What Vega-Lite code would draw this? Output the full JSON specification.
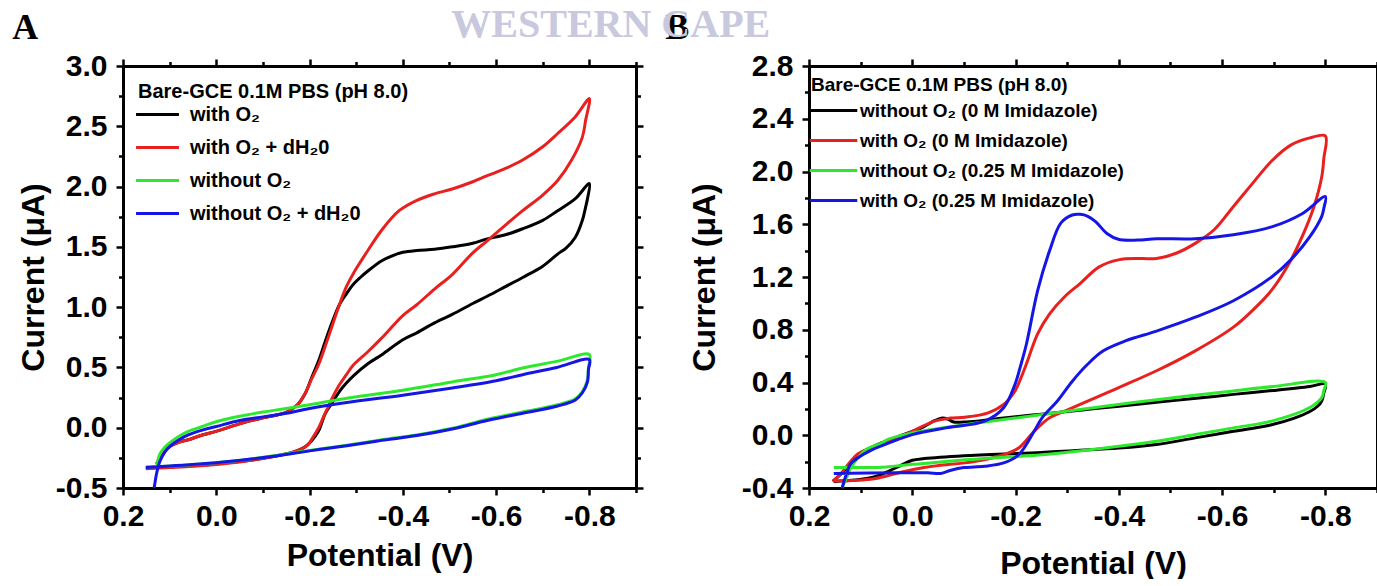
{
"$schema": "https://vega.github.io/schema/vega-lite/v6.json",
"background": "white",
"padding": {"left": 12, "top": 5, "right": 0, "bottom": 0},
"config": {
  "font": "Liberation Sans",
  "view": {"stroke": null},
  "axis": {"labelFont": "Liberation Sans", "labelFontWeight": "bold", "labelFontSize": 30, "labelColor": "black",
           "titleFont": "Liberation Sans", "titleFontWeight": "bold", "titleFontSize": 32, "titleColor": "black",
           "domainColor": "black", "domainWidth": 3, "tickColor": "black", "tickWidth": 2.5, "grid": false, "labelPadding": 9, "labelOverlap": false, "labelFlush": false},
  "axisBottom": {"labelPadding": 6},
  "legend": {"orient": "none", "padding": 0, "titleFont": "Liberation Sans", "titleFontWeight": "bold", "titleColor": "black",
             "labelFont": "Liberation Sans", "labelFontWeight": "bold", "labelColor": "black", "symbolStrokeWidth": 3,
             "symbolFillColor": "transparent", "titleLimit": 400, "labelLimit": 400},
  "title": {"font": "Liberation Serif", "fontWeight": "bold", "fontSize": 36, "color": "black", "anchor": "start"}
},
"title": {"text": "WESTERN CAPE", "color": "#c8c8de", "fontSize": 40, "dx": 439, "dy": -7, "offset": -42, "zindex": -1},
"spacing": 20,
"resolve": {"scale": {"color": "independent"}, "legend": {"color": "independent"}},
"datasets": {"cv": [
{"panel":"A","series":"with O₂","ord":1,"V":0.128,"I":-0.30},
{"panel":"A","series":"with O₂","ord":2,"V":0.121,"I":-0.25},
{"panel":"A","series":"with O₂","ord":3,"V":0.106,"I":-0.17},
{"panel":"A","series":"with O₂","ord":4,"V":0.08,"I":-0.12},
{"panel":"A","series":"with O₂","ord":5,"V":0.06,"I":-0.10},
{"panel":"A","series":"with O₂","ord":6,"V":0.03,"I":-0.06},
{"panel":"A","series":"with O₂","ord":7,"V":0.0,"I":-0.03},
{"panel":"A","series":"with O₂","ord":8,"V":-0.053,"I":0.036},
{"panel":"A","series":"with O₂","ord":9,"V":-0.098,"I":0.08},
{"panel":"A","series":"with O₂","ord":10,"V":-0.151,"I":0.13},
{"panel":"A","series":"with O₂","ord":11,"V":-0.174,"I":0.19},
{"panel":"A","series":"with O₂","ord":12,"V":-0.19,"I":0.28},
{"panel":"A","series":"with O₂","ord":13,"V":-0.204,"I":0.41},
{"panel":"A","series":"with O₂","ord":14,"V":-0.219,"I":0.55},
{"panel":"A","series":"with O₂","ord":15,"V":-0.234,"I":0.72},
{"panel":"A","series":"with O₂","ord":16,"V":-0.249,"I":0.88},
{"panel":"A","series":"with O₂","ord":17,"V":-0.264,"I":1.02},
{"panel":"A","series":"with O₂","ord":18,"V":-0.279,"I":1.11},
{"panel":"A","series":"with O₂","ord":19,"V":-0.294,"I":1.19},
{"panel":"A","series":"with O₂","ord":20,"V":-0.31,"I":1.25},
{"panel":"A","series":"with O₂","ord":21,"V":-0.325,"I":1.30},
{"panel":"A","series":"with O₂","ord":22,"V":-0.355,"I":1.385},
{"panel":"A","series":"with O₂","ord":23,"V":-0.38,"I":1.43},
{"panel":"A","series":"with O₂","ord":24,"V":-0.40,"I":1.455},
{"panel":"A","series":"with O₂","ord":25,"V":-0.43,"I":1.47},
{"panel":"A","series":"with O₂","ord":26,"V":-0.468,"I":1.48},
{"panel":"A","series":"with O₂","ord":27,"V":-0.506,"I":1.50},
{"panel":"A","series":"with O₂","ord":28,"V":-0.55,"I":1.53},
{"panel":"A","series":"with O₂","ord":29,"V":-0.581,"I":1.566},
{"panel":"A","series":"with O₂","ord":30,"V":-0.62,"I":1.60},
{"panel":"A","series":"with O₂","ord":31,"V":-0.657,"I":1.65},
{"panel":"A","series":"with O₂","ord":32,"V":-0.70,"I":1.72},
{"panel":"A","series":"with O₂","ord":33,"V":-0.732,"I":1.80},
{"panel":"A","series":"with O₂","ord":34,"V":-0.77,"I":1.90},
{"panel":"A","series":"with O₂","ord":35,"V":-0.80,"I":2.025},
{"panel":"A","series":"with O₂","ord":36,"V":-0.796,"I":1.90},
{"panel":"A","series":"with O₂","ord":37,"V":-0.792,"I":1.83},
{"panel":"A","series":"with O₂","ord":38,"V":-0.785,"I":1.72},
{"panel":"A","series":"with O₂","ord":39,"V":-0.77,"I":1.58},
{"panel":"A","series":"with O₂","ord":40,"V":-0.75,"I":1.49},
{"panel":"A","series":"with O₂","ord":41,"V":-0.732,"I":1.44},
{"panel":"A","series":"with O₂","ord":42,"V":-0.70,"I":1.34},
{"panel":"A","series":"with O₂","ord":43,"V":-0.657,"I":1.246},
{"panel":"A","series":"with O₂","ord":44,"V":-0.62,"I":1.17},
{"panel":"A","series":"with O₂","ord":45,"V":-0.581,"I":1.09},
{"panel":"A","series":"with O₂","ord":46,"V":-0.55,"I":1.03},
{"panel":"A","series":"with O₂","ord":47,"V":-0.506,"I":0.94},
{"panel":"A","series":"with O₂","ord":48,"V":-0.468,"I":0.87},
{"panel":"A","series":"with O₂","ord":49,"V":-0.43,"I":0.787},
{"panel":"A","series":"with O₂","ord":50,"V":-0.40,"I":0.73},
{"panel":"A","series":"with O₂","ord":51,"V":-0.355,"I":0.606},
{"panel":"A","series":"with O₂","ord":52,"V":-0.325,"I":0.53},
{"panel":"A","series":"with O₂","ord":53,"V":-0.294,"I":0.43},
{"panel":"A","series":"with O₂","ord":54,"V":-0.279,"I":0.37},
{"panel":"A","series":"with O₂","ord":55,"V":-0.264,"I":0.30},
{"panel":"A","series":"with O₂","ord":56,"V":-0.249,"I":0.21},
{"panel":"A","series":"with O₂","ord":57,"V":-0.234,"I":0.12},
{"panel":"A","series":"with O₂","ord":58,"V":-0.219,"I":-0.03},
{"panel":"A","series":"with O₂","ord":59,"V":-0.204,"I":-0.11},
{"panel":"A","series":"with O₂","ord":60,"V":-0.19,"I":-0.16},
{"panel":"A","series":"with O₂","ord":61,"V":-0.166,"I":-0.20},
{"panel":"A","series":"with O₂","ord":62,"V":-0.128,"I":-0.235},
{"panel":"A","series":"with O₂","ord":63,"V":-0.098,"I":-0.256},
{"panel":"A","series":"with O₂","ord":64,"V":-0.05,"I":-0.28},
{"panel":"A","series":"with O₂","ord":65,"V":0.0,"I":-0.30},
{"panel":"A","series":"with O₂","ord":66,"V":0.05,"I":-0.315},
{"panel":"A","series":"with O₂","ord":67,"V":0.098,"I":-0.325},
{"panel":"A","series":"with O₂","ord":68,"V":0.151,"I":-0.335},
{"panel":"A","series":"with O₂ + dH₂0","ord":1,"V":0.128,"I":-0.30},
{"panel":"A","series":"with O₂ + dH₂0","ord":2,"V":0.121,"I":-0.25},
{"panel":"A","series":"with O₂ + dH₂0","ord":3,"V":0.106,"I":-0.17},
{"panel":"A","series":"with O₂ + dH₂0","ord":4,"V":0.08,"I":-0.12},
{"panel":"A","series":"with O₂ + dH₂0","ord":5,"V":0.06,"I":-0.10},
{"panel":"A","series":"with O₂ + dH₂0","ord":6,"V":0.03,"I":-0.06},
{"panel":"A","series":"with O₂ + dH₂0","ord":7,"V":0.0,"I":-0.03},
{"panel":"A","series":"with O₂ + dH₂0","ord":8,"V":-0.053,"I":0.036},
{"panel":"A","series":"with O₂ + dH₂0","ord":9,"V":-0.098,"I":0.08},
{"panel":"A","series":"with O₂ + dH₂0","ord":10,"V":-0.151,"I":0.13},
{"panel":"A","series":"with O₂ + dH₂0","ord":11,"V":-0.174,"I":0.19},
{"panel":"A","series":"with O₂ + dH₂0","ord":12,"V":-0.19,"I":0.28},
{"panel":"A","series":"with O₂ + dH₂0","ord":13,"V":-0.204,"I":0.40},
{"panel":"A","series":"with O₂ + dH₂0","ord":14,"V":-0.219,"I":0.52},
{"panel":"A","series":"with O₂ + dH₂0","ord":15,"V":-0.234,"I":0.68},
{"panel":"A","series":"with O₂ + dH₂0","ord":16,"V":-0.249,"I":0.85},
{"panel":"A","series":"with O₂ + dH₂0","ord":17,"V":-0.264,"I":1.02},
{"panel":"A","series":"with O₂ + dH₂0","ord":18,"V":-0.279,"I":1.17},
{"panel":"A","series":"with O₂ + dH₂0","ord":19,"V":-0.294,"I":1.28},
{"panel":"A","series":"with O₂ + dH₂0","ord":20,"V":-0.31,"I":1.38},
{"panel":"A","series":"with O₂ + dH₂0","ord":21,"V":-0.325,"I":1.47},
{"panel":"A","series":"with O₂ + dH₂0","ord":22,"V":-0.355,"I":1.64},
{"panel":"A","series":"with O₂ + dH₂0","ord":23,"V":-0.392,"I":1.80},
{"panel":"A","series":"with O₂ + dH₂0","ord":24,"V":-0.43,"I":1.886},
{"panel":"A","series":"with O₂ + dH₂0","ord":25,"V":-0.468,"I":1.94},
{"panel":"A","series":"with O₂ + dH₂0","ord":26,"V":-0.506,"I":1.98},
{"panel":"A","series":"with O₂ + dH₂0","ord":27,"V":-0.55,"I":2.04},
{"panel":"A","series":"with O₂ + dH₂0","ord":28,"V":-0.581,"I":2.09},
{"panel":"A","series":"with O₂ + dH₂0","ord":29,"V":-0.62,"I":2.15},
{"panel":"A","series":"with O₂ + dH₂0","ord":30,"V":-0.657,"I":2.22},
{"panel":"A","series":"with O₂ + dH₂0","ord":31,"V":-0.70,"I":2.33},
{"panel":"A","series":"with O₂ + dH₂0","ord":32,"V":-0.732,"I":2.44},
{"panel":"A","series":"with O₂ + dH₂0","ord":33,"V":-0.77,"I":2.58},
{"panel":"A","series":"with O₂ + dH₂0","ord":34,"V":-0.80,"I":2.73},
{"panel":"A","series":"with O₂ + dH₂0","ord":35,"V":-0.792,"I":2.55},
{"panel":"A","series":"with O₂ + dH₂0","ord":36,"V":-0.785,"I":2.41},
{"panel":"A","series":"with O₂ + dH₂0","ord":37,"V":-0.762,"I":2.22},
{"panel":"A","series":"with O₂ + dH₂0","ord":38,"V":-0.732,"I":2.05},
{"panel":"A","series":"with O₂ + dH₂0","ord":39,"V":-0.70,"I":1.93},
{"panel":"A","series":"with O₂ + dH₂0","ord":40,"V":-0.657,"I":1.80},
{"panel":"A","series":"with O₂ + dH₂0","ord":41,"V":-0.62,"I":1.68},
{"panel":"A","series":"with O₂ + dH₂0","ord":42,"V":-0.581,"I":1.55},
{"panel":"A","series":"with O₂ + dH₂0","ord":43,"V":-0.55,"I":1.45},
{"panel":"A","series":"with O₂ + dH₂0","ord":44,"V":-0.506,"I":1.27},
{"panel":"A","series":"with O₂ + dH₂0","ord":45,"V":-0.468,"I":1.15},
{"panel":"A","series":"with O₂ + dH₂0","ord":46,"V":-0.43,"I":1.02},
{"panel":"A","series":"with O₂ + dH₂0","ord":47,"V":-0.40,"I":0.93},
{"panel":"A","series":"with O₂ + dH₂0","ord":48,"V":-0.355,"I":0.745},
{"panel":"A","series":"with O₂ + dH₂0","ord":49,"V":-0.325,"I":0.63},
{"panel":"A","series":"with O₂ + dH₂0","ord":50,"V":-0.294,"I":0.52},
{"panel":"A","series":"with O₂ + dH₂0","ord":51,"V":-0.279,"I":0.44},
{"panel":"A","series":"with O₂ + dH₂0","ord":52,"V":-0.264,"I":0.356},
{"panel":"A","series":"with O₂ + dH₂0","ord":53,"V":-0.249,"I":0.25},
{"panel":"A","series":"with O₂ + dH₂0","ord":54,"V":-0.242,"I":0.19},
{"panel":"A","series":"with O₂ + dH₂0","ord":55,"V":-0.23,"I":0.09},
{"panel":"A","series":"with O₂ + dH₂0","ord":56,"V":-0.219,"I":-0.005},
{"panel":"A","series":"with O₂ + dH₂0","ord":57,"V":-0.204,"I":-0.10},
{"panel":"A","series":"with O₂ + dH₂0","ord":58,"V":-0.196,"I":-0.145},
{"panel":"A","series":"with O₂ + dH₂0","ord":59,"V":-0.18,"I":-0.18},
{"panel":"A","series":"with O₂ + dH₂0","ord":60,"V":-0.166,"I":-0.20},
{"panel":"A","series":"with O₂ + dH₂0","ord":61,"V":-0.128,"I":-0.235},
{"panel":"A","series":"with O₂ + dH₂0","ord":62,"V":-0.098,"I":-0.256},
{"panel":"A","series":"with O₂ + dH₂0","ord":63,"V":-0.05,"I":-0.285},
{"panel":"A","series":"with O₂ + dH₂0","ord":64,"V":0.0,"I":-0.305},
{"panel":"A","series":"with O₂ + dH₂0","ord":65,"V":0.05,"I":-0.32},
{"panel":"A","series":"with O₂ + dH₂0","ord":66,"V":0.098,"I":-0.33},
{"panel":"A","series":"with O₂ + dH₂0","ord":67,"V":0.151,"I":-0.34},
{"panel":"A","series":"without O₂","ord":1,"V":0.128,"I":-0.33},
{"panel":"A","series":"without O₂","ord":2,"V":0.121,"I":-0.22},
{"panel":"A","series":"without O₂","ord":3,"V":0.11,"I":-0.16},
{"panel":"A","series":"without O₂","ord":4,"V":0.098,"I":-0.12},
{"panel":"A","series":"without O₂","ord":5,"V":0.08,"I":-0.07},
{"panel":"A","series":"without O₂","ord":6,"V":0.06,"I":-0.03},
{"panel":"A","series":"without O₂","ord":7,"V":0.03,"I":0.01},
{"panel":"A","series":"without O₂","ord":8,"V":0.0,"I":0.05},
{"panel":"A","series":"without O₂","ord":9,"V":-0.05,"I":0.095},
{"panel":"A","series":"without O₂","ord":10,"V":-0.1,"I":0.13},
{"panel":"A","series":"without O₂","ord":11,"V":-0.15,"I":0.16},
{"panel":"A","series":"without O₂","ord":12,"V":-0.2,"I":0.19},
{"panel":"A","series":"without O₂","ord":13,"V":-0.28,"I":0.245},
{"panel":"A","series":"without O₂","ord":14,"V":-0.4,"I":0.31},
{"panel":"A","series":"without O₂","ord":15,"V":-0.506,"I":0.38},
{"panel":"A","series":"without O₂","ord":16,"V":-0.6,"I":0.44},
{"panel":"A","series":"without O₂","ord":17,"V":-0.657,"I":0.495},
{"panel":"A","series":"without O₂","ord":18,"V":-0.73,"I":0.55},
{"panel":"A","series":"without O₂","ord":19,"V":-0.8,"I":0.606},
{"panel":"A","series":"without O₂","ord":20,"V":-0.798,"I":0.50},
{"panel":"A","series":"without O₂","ord":21,"V":-0.796,"I":0.40},
{"panel":"A","series":"without O₂","ord":22,"V":-0.785,"I":0.30},
{"panel":"A","series":"without O₂","ord":23,"V":-0.77,"I":0.24},
{"panel":"A","series":"without O₂","ord":24,"V":-0.732,"I":0.19},
{"panel":"A","series":"without O₂","ord":25,"V":-0.657,"I":0.13},
{"panel":"A","series":"without O₂","ord":26,"V":-0.581,"I":0.07},
{"panel":"A","series":"without O₂","ord":27,"V":-0.506,"I":-0.005},
{"panel":"A","series":"without O₂","ord":28,"V":-0.43,"I":-0.06},
{"panel":"A","series":"without O₂","ord":29,"V":-0.355,"I":-0.10},
{"panel":"A","series":"without O₂","ord":30,"V":-0.28,"I":-0.145},
{"panel":"A","series":"without O₂","ord":31,"V":-0.204,"I":-0.186},
{"panel":"A","series":"without O₂","ord":32,"V":-0.128,"I":-0.23},
{"panel":"A","series":"without O₂","ord":33,"V":-0.053,"I":-0.27},
{"panel":"A","series":"without O₂","ord":34,"V":0.0,"I":-0.29},
{"panel":"A","series":"without O₂","ord":35,"V":0.098,"I":-0.317},
{"panel":"A","series":"without O₂","ord":36,"V":0.151,"I":-0.325},
{"panel":"A","series":"without O₂ + dH₂0","ord":1,"V":0.133,"I":-0.5},
{"panel":"A","series":"without O₂ + dH₂0","ord":2,"V":0.128,"I":-0.38},
{"panel":"A","series":"without O₂ + dH₂0","ord":3,"V":0.121,"I":-0.28},
{"panel":"A","series":"without O₂ + dH₂0","ord":4,"V":0.11,"I":-0.2},
{"panel":"A","series":"without O₂ + dH₂0","ord":5,"V":0.098,"I":-0.15},
{"panel":"A","series":"without O₂ + dH₂0","ord":6,"V":0.08,"I":-0.10},
{"panel":"A","series":"without O₂ + dH₂0","ord":7,"V":0.06,"I":-0.06},
{"panel":"A","series":"without O₂ + dH₂0","ord":8,"V":0.03,"I":-0.02},
{"panel":"A","series":"without O₂ + dH₂0","ord":9,"V":0.0,"I":0.01},
{"panel":"A","series":"without O₂ + dH₂0","ord":10,"V":-0.05,"I":0.06},
{"panel":"A","series":"without O₂ + dH₂0","ord":11,"V":-0.1,"I":0.09},
{"panel":"A","series":"without O₂ + dH₂0","ord":12,"V":-0.15,"I":0.12},
{"panel":"A","series":"without O₂ + dH₂0","ord":13,"V":-0.2,"I":0.16},
{"panel":"A","series":"without O₂ + dH₂0","ord":14,"V":-0.28,"I":0.21},
{"panel":"A","series":"without O₂ + dH₂0","ord":15,"V":-0.4,"I":0.27},
{"panel":"A","series":"without O₂ + dH₂0","ord":16,"V":-0.506,"I":0.33},
{"panel":"A","series":"without O₂ + dH₂0","ord":17,"V":-0.6,"I":0.39},
{"panel":"A","series":"without O₂ + dH₂0","ord":18,"V":-0.657,"I":0.44},
{"panel":"A","series":"without O₂ + dH₂0","ord":19,"V":-0.73,"I":0.50},
{"panel":"A","series":"without O₂ + dH₂0","ord":20,"V":-0.8,"I":0.565},
{"panel":"A","series":"without O₂ + dH₂0","ord":21,"V":-0.798,"I":0.48},
{"panel":"A","series":"without O₂ + dH₂0","ord":22,"V":-0.796,"I":0.38},
{"panel":"A","series":"without O₂ + dH₂0","ord":23,"V":-0.785,"I":0.29},
{"panel":"A","series":"without O₂ + dH₂0","ord":24,"V":-0.77,"I":0.23},
{"panel":"A","series":"without O₂ + dH₂0","ord":25,"V":-0.732,"I":0.18},
{"panel":"A","series":"without O₂ + dH₂0","ord":26,"V":-0.657,"I":0.12},
{"panel":"A","series":"without O₂ + dH₂0","ord":27,"V":-0.581,"I":0.06},
{"panel":"A","series":"without O₂ + dH₂0","ord":28,"V":-0.506,"I":-0.01},
{"panel":"A","series":"without O₂ + dH₂0","ord":29,"V":-0.43,"I":-0.065},
{"panel":"A","series":"without O₂ + dH₂0","ord":30,"V":-0.355,"I":-0.105},
{"panel":"A","series":"without O₂ + dH₂0","ord":31,"V":-0.28,"I":-0.15},
{"panel":"A","series":"without O₂ + dH₂0","ord":32,"V":-0.204,"I":-0.19},
{"panel":"A","series":"without O₂ + dH₂0","ord":33,"V":-0.128,"I":-0.235},
{"panel":"A","series":"without O₂ + dH₂0","ord":34,"V":-0.053,"I":-0.27},
{"panel":"A","series":"without O₂ + dH₂0","ord":35,"V":0.0,"I":-0.29},
{"panel":"A","series":"without O₂ + dH₂0","ord":36,"V":0.098,"I":-0.317},
{"panel":"A","series":"without O₂ + dH₂0","ord":37,"V":0.151,"I":-0.33},
{"panel":"B","series":"without O₂ (0 M Imidazole)","ord":1,"V":0.154,"I":-0.35},
{"panel":"B","series":"without O₂ (0 M Imidazole)","ord":2,"V":0.14,"I":-0.30},
{"panel":"B","series":"without O₂ (0 M Imidazole)","ord":3,"V":0.12,"I":-0.22},
{"panel":"B","series":"without O₂ (0 M Imidazole)","ord":4,"V":0.105,"I":-0.15},
{"panel":"B","series":"without O₂ (0 M Imidazole)","ord":5,"V":0.083,"I":-0.10},
{"panel":"B","series":"without O₂ (0 M Imidazole)","ord":6,"V":0.061,"I":-0.06},
{"panel":"B","series":"without O₂ (0 M Imidazole)","ord":7,"V":0.046,"I":-0.04},
{"panel":"B","series":"without O₂ (0 M Imidazole)","ord":8,"V":0.02,"I":0.0},
{"panel":"B","series":"without O₂ (0 M Imidazole)","ord":9,"V":0.0,"I":0.03},
{"panel":"B","series":"without O₂ (0 M Imidazole)","ord":10,"V":-0.02,"I":0.06},
{"panel":"B","series":"without O₂ (0 M Imidazole)","ord":11,"V":-0.043,"I":0.11},
{"panel":"B","series":"without O₂ (0 M Imidazole)","ord":12,"V":-0.058,"I":0.13},
{"panel":"B","series":"without O₂ (0 M Imidazole)","ord":13,"V":-0.07,"I":0.12},
{"panel":"B","series":"without O₂ (0 M Imidazole)","ord":14,"V":-0.08,"I":0.10},
{"panel":"B","series":"without O₂ (0 M Imidazole)","ord":15,"V":-0.1,"I":0.10},
{"panel":"B","series":"without O₂ (0 M Imidazole)","ord":16,"V":-0.125,"I":0.107},
{"panel":"B","series":"without O₂ (0 M Imidazole)","ord":17,"V":-0.177,"I":0.13},
{"panel":"B","series":"without O₂ (0 M Imidazole)","ord":18,"V":-0.25,"I":0.16},
{"panel":"B","series":"without O₂ (0 M Imidazole)","ord":19,"V":-0.325,"I":0.19},
{"panel":"B","series":"without O₂ (0 M Imidazole)","ord":20,"V":-0.4,"I":0.22},
{"panel":"B","series":"without O₂ (0 M Imidazole)","ord":21,"V":-0.473,"I":0.25},
{"panel":"B","series":"without O₂ (0 M Imidazole)","ord":22,"V":-0.55,"I":0.28},
{"panel":"B","series":"without O₂ (0 M Imidazole)","ord":23,"V":-0.622,"I":0.31},
{"panel":"B","series":"without O₂ (0 M Imidazole)","ord":24,"V":-0.7,"I":0.34},
{"panel":"B","series":"without O₂ (0 M Imidazole)","ord":25,"V":-0.77,"I":0.37},
{"panel":"B","series":"without O₂ (0 M Imidazole)","ord":26,"V":-0.8,"I":0.387},
{"panel":"B","series":"without O₂ (0 M Imidazole)","ord":27,"V":-0.797,"I":0.32},
{"panel":"B","series":"without O₂ (0 M Imidazole)","ord":28,"V":-0.793,"I":0.26},
{"panel":"B","series":"without O₂ (0 M Imidazole)","ord":29,"V":-0.785,"I":0.22},
{"panel":"B","series":"without O₂ (0 M Imidazole)","ord":30,"V":-0.77,"I":0.18},
{"panel":"B","series":"without O₂ (0 M Imidazole)","ord":31,"V":-0.74,"I":0.13},
{"panel":"B","series":"without O₂ (0 M Imidazole)","ord":32,"V":-0.696,"I":0.08},
{"panel":"B","series":"without O₂ (0 M Imidazole)","ord":33,"V":-0.622,"I":0.03},
{"panel":"B","series":"without O₂ (0 M Imidazole)","ord":34,"V":-0.548,"I":-0.02},
{"panel":"B","series":"without O₂ (0 M Imidazole)","ord":35,"V":-0.473,"I":-0.07},
{"panel":"B","series":"without O₂ (0 M Imidazole)","ord":36,"V":-0.4,"I":-0.097},
{"panel":"B","series":"without O₂ (0 M Imidazole)","ord":37,"V":-0.25,"I":-0.13},
{"panel":"B","series":"without O₂ (0 M Imidazole)","ord":38,"V":-0.1,"I":-0.155},
{"panel":"B","series":"without O₂ (0 M Imidazole)","ord":39,"V":-0.023,"I":-0.177},
{"panel":"B","series":"without O₂ (0 M Imidazole)","ord":40,"V":0.0,"I":-0.19},
{"panel":"B","series":"without O₂ (0 M Imidazole)","ord":41,"V":0.022,"I":-0.228},
{"panel":"B","series":"without O₂ (0 M Imidazole)","ord":42,"V":0.05,"I":-0.28},
{"panel":"B","series":"without O₂ (0 M Imidazole)","ord":43,"V":0.074,"I":-0.317},
{"panel":"B","series":"without O₂ (0 M Imidazole)","ord":44,"V":0.11,"I":-0.34},
{"panel":"B","series":"without O₂ (0 M Imidazole)","ord":45,"V":0.152,"I":-0.35},
{"panel":"B","series":"with O₂ (0 M Imidazole)","ord":1,"V":0.154,"I":-0.35},
{"panel":"B","series":"with O₂ (0 M Imidazole)","ord":2,"V":0.14,"I":-0.30},
{"panel":"B","series":"with O₂ (0 M Imidazole)","ord":3,"V":0.12,"I":-0.20},
{"panel":"B","series":"with O₂ (0 M Imidazole)","ord":4,"V":0.105,"I":-0.14},
{"panel":"B","series":"with O₂ (0 M Imidazole)","ord":5,"V":0.083,"I":-0.10},
{"panel":"B","series":"with O₂ (0 M Imidazole)","ord":6,"V":0.046,"I":-0.046},
{"panel":"B","series":"with O₂ (0 M Imidazole)","ord":7,"V":0.0,"I":0.03},
{"panel":"B","series":"with O₂ (0 M Imidazole)","ord":8,"V":-0.043,"I":0.107},
{"panel":"B","series":"with O₂ (0 M Imidazole)","ord":9,"V":-0.073,"I":0.13},
{"panel":"B","series":"with O₂ (0 M Imidazole)","ord":10,"V":-0.102,"I":0.137},
{"panel":"B","series":"with O₂ (0 M Imidazole)","ord":11,"V":-0.147,"I":0.17},
{"panel":"B","series":"with O₂ (0 M Imidazole)","ord":12,"V":-0.177,"I":0.234},
{"panel":"B","series":"with O₂ (0 M Imidazole)","ord":13,"V":-0.199,"I":0.336},
{"panel":"B","series":"with O₂ (0 M Imidazole)","ord":14,"V":-0.21,"I":0.43},
{"panel":"B","series":"with O₂ (0 M Imidazole)","ord":15,"V":-0.221,"I":0.54},
{"panel":"B","series":"with O₂ (0 M Imidazole)","ord":16,"V":-0.243,"I":0.77},
{"panel":"B","series":"with O₂ (0 M Imidazole)","ord":17,"V":-0.266,"I":0.92},
{"panel":"B","series":"with O₂ (0 M Imidazole)","ord":18,"V":-0.295,"I":1.05},
{"panel":"B","series":"with O₂ (0 M Imidazole)","ord":19,"V":-0.325,"I":1.15},
{"panel":"B","series":"with O₂ (0 M Imidazole)","ord":20,"V":-0.362,"I":1.277},
{"panel":"B","series":"with O₂ (0 M Imidazole)","ord":21,"V":-0.399,"I":1.33},
{"panel":"B","series":"with O₂ (0 M Imidazole)","ord":22,"V":-0.444,"I":1.34},
{"panel":"B","series":"with O₂ (0 M Imidazole)","ord":23,"V":-0.473,"I":1.34},
{"panel":"B","series":"with O₂ (0 M Imidazole)","ord":24,"V":-0.511,"I":1.38},
{"panel":"B","series":"with O₂ (0 M Imidazole)","ord":25,"V":-0.548,"I":1.455},
{"panel":"B","series":"with O₂ (0 M Imidazole)","ord":26,"V":-0.585,"I":1.56},
{"panel":"B","series":"with O₂ (0 M Imidazole)","ord":27,"V":-0.622,"I":1.735},
{"panel":"B","series":"with O₂ (0 M Imidazole)","ord":28,"V":-0.659,"I":1.91},
{"panel":"B","series":"with O₂ (0 M Imidazole)","ord":29,"V":-0.696,"I":2.08},
{"panel":"B","series":"with O₂ (0 M Imidazole)","ord":30,"V":-0.733,"I":2.2},
{"panel":"B","series":"with O₂ (0 M Imidazole)","ord":31,"V":-0.77,"I":2.255},
{"panel":"B","series":"with O₂ (0 M Imidazole)","ord":32,"V":-0.8,"I":2.27},
{"panel":"B","series":"with O₂ (0 M Imidazole)","ord":33,"V":-0.797,"I":2.1},
{"panel":"B","series":"with O₂ (0 M Imidazole)","ord":34,"V":-0.793,"I":1.96},
{"panel":"B","series":"with O₂ (0 M Imidazole)","ord":35,"V":-0.778,"I":1.735},
{"panel":"B","series":"with O₂ (0 M Imidazole)","ord":36,"V":-0.755,"I":1.506},
{"panel":"B","series":"with O₂ (0 M Imidazole)","ord":37,"V":-0.726,"I":1.277},
{"panel":"B","series":"with O₂ (0 M Imidazole)","ord":38,"V":-0.696,"I":1.10},
{"panel":"B","series":"with O₂ (0 M Imidazole)","ord":39,"V":-0.659,"I":0.947},
{"panel":"B","series":"with O₂ (0 M Imidazole)","ord":40,"V":-0.622,"I":0.82},
{"panel":"B","series":"with O₂ (0 M Imidazole)","ord":41,"V":-0.548,"I":0.64},
{"panel":"B","series":"with O₂ (0 M Imidazole)","ord":42,"V":-0.473,"I":0.489},
{"panel":"B","series":"with O₂ (0 M Imidazole)","ord":43,"V":-0.399,"I":0.36},
{"panel":"B","series":"with O₂ (0 M Imidazole)","ord":44,"V":-0.325,"I":0.234},
{"panel":"B","series":"with O₂ (0 M Imidazole)","ord":45,"V":-0.295,"I":0.183},
{"panel":"B","series":"with O₂ (0 M Imidazole)","ord":46,"V":-0.266,"I":0.132},
{"panel":"B","series":"with O₂ (0 M Imidazole)","ord":47,"V":-0.236,"I":0.03},
{"panel":"B","series":"with O₂ (0 M Imidazole)","ord":48,"V":-0.206,"I":-0.097},
{"panel":"B","series":"with O₂ (0 M Imidazole)","ord":49,"V":-0.177,"I":-0.148},
{"panel":"B","series":"with O₂ (0 M Imidazole)","ord":50,"V":-0.12,"I":-0.20},
{"panel":"B","series":"with O₂ (0 M Imidazole)","ord":51,"V":-0.05,"I":-0.23},
{"panel":"B","series":"with O₂ (0 M Imidazole)","ord":52,"V":-0.023,"I":-0.245},
{"panel":"B","series":"with O₂ (0 M Imidazole)","ord":53,"V":0.022,"I":-0.28},
{"panel":"B","series":"with O₂ (0 M Imidazole)","ord":54,"V":0.074,"I":-0.33},
{"panel":"B","series":"with O₂ (0 M Imidazole)","ord":55,"V":0.152,"I":-0.347},
{"panel":"B","series":"without O₂ (0.25 M Imidazole)","ord":1,"V":0.136,"I":-0.40},
{"panel":"B","series":"without O₂ (0.25 M Imidazole)","ord":2,"V":0.125,"I":-0.30},
{"panel":"B","series":"without O₂ (0.25 M Imidazole)","ord":3,"V":0.119,"I":-0.245},
{"panel":"B","series":"without O₂ (0.25 M Imidazole)","ord":4,"V":0.105,"I":-0.17},
{"panel":"B","series":"without O₂ (0.25 M Imidazole)","ord":5,"V":0.09,"I":-0.11},
{"panel":"B","series":"without O₂ (0.25 M Imidazole)","ord":6,"V":0.06,"I":-0.06},
{"panel":"B","series":"without O₂ (0.25 M Imidazole)","ord":7,"V":0.046,"I":-0.03},
{"panel":"B","series":"without O₂ (0.25 M Imidazole)","ord":8,"V":0.0,"I":0.018},
{"panel":"B","series":"without O₂ (0.25 M Imidazole)","ord":9,"V":-0.102,"I":0.08},
{"panel":"B","series":"without O₂ (0.25 M Imidazole)","ord":10,"V":-0.199,"I":0.13},
{"panel":"B","series":"without O₂ (0.25 M Imidazole)","ord":11,"V":-0.325,"I":0.196},
{"panel":"B","series":"without O₂ (0.25 M Imidazole)","ord":12,"V":-0.473,"I":0.27},
{"panel":"B","series":"without O₂ (0.25 M Imidazole)","ord":13,"V":-0.622,"I":0.336},
{"panel":"B","series":"without O₂ (0.25 M Imidazole)","ord":14,"V":-0.7,"I":0.37},
{"panel":"B","series":"without O₂ (0.25 M Imidazole)","ord":15,"V":-0.8,"I":0.40},
{"panel":"B","series":"without O₂ (0.25 M Imidazole)","ord":16,"V":-0.797,"I":0.34},
{"panel":"B","series":"without O₂ (0.25 M Imidazole)","ord":17,"V":-0.793,"I":0.285},
{"panel":"B","series":"without O₂ (0.25 M Imidazole)","ord":18,"V":-0.77,"I":0.21},
{"panel":"B","series":"without O₂ (0.25 M Imidazole)","ord":19,"V":-0.696,"I":0.107},
{"panel":"B","series":"without O₂ (0.25 M Imidazole)","ord":20,"V":-0.622,"I":0.056},
{"panel":"B","series":"without O₂ (0.25 M Imidazole)","ord":21,"V":-0.548,"I":0.005},
{"panel":"B","series":"without O₂ (0.25 M Imidazole)","ord":22,"V":-0.473,"I":-0.046},
{"panel":"B","series":"without O₂ (0.25 M Imidazole)","ord":23,"V":-0.399,"I":-0.084},
{"panel":"B","series":"without O₂ (0.25 M Imidazole)","ord":24,"V":-0.251,"I":-0.148},
{"panel":"B","series":"without O₂ (0.25 M Imidazole)","ord":25,"V":-0.102,"I":-0.186},
{"panel":"B","series":"without O₂ (0.25 M Imidazole)","ord":26,"V":-0.023,"I":-0.215},
{"panel":"B","series":"without O₂ (0.25 M Imidazole)","ord":27,"V":0.0,"I":-0.22},
{"panel":"B","series":"without O₂ (0.25 M Imidazole)","ord":28,"V":0.05,"I":-0.24},
{"panel":"B","series":"without O₂ (0.25 M Imidazole)","ord":29,"V":0.1,"I":-0.245},
{"panel":"B","series":"without O₂ (0.25 M Imidazole)","ord":30,"V":0.152,"I":-0.245},
{"panel":"B","series":"with O₂ (0.25 M Imidazole)","ord":1,"V":0.136,"I":-0.40},
{"panel":"B","series":"with O₂ (0.25 M Imidazole)","ord":2,"V":0.128,"I":-0.30},
{"panel":"B","series":"with O₂ (0.25 M Imidazole)","ord":3,"V":0.12,"I":-0.22},
{"panel":"B","series":"with O₂ (0.25 M Imidazole)","ord":4,"V":0.105,"I":-0.17},
{"panel":"B","series":"with O₂ (0.25 M Imidazole)","ord":5,"V":0.083,"I":-0.12},
{"panel":"B","series":"with O₂ (0.25 M Imidazole)","ord":6,"V":0.046,"I":-0.06},
{"panel":"B","series":"with O₂ (0.25 M Imidazole)","ord":7,"V":0.0,"I":0.005},
{"panel":"B","series":"with O₂ (0.25 M Imidazole)","ord":8,"V":-0.065,"I":0.056},
{"panel":"B","series":"with O₂ (0.25 M Imidazole)","ord":9,"V":-0.14,"I":0.107},
{"panel":"B","series":"with O₂ (0.25 M Imidazole)","ord":10,"V":-0.177,"I":0.209},
{"panel":"B","series":"with O₂ (0.25 M Imidazole)","ord":11,"V":-0.199,"I":0.387},
{"panel":"B","series":"with O₂ (0.25 M Imidazole)","ord":12,"V":-0.21,"I":0.53},
{"panel":"B","series":"with O₂ (0.25 M Imidazole)","ord":13,"V":-0.221,"I":0.69},
{"panel":"B","series":"with O₂ (0.25 M Imidazole)","ord":14,"V":-0.243,"I":1.10},
{"panel":"B","series":"with O₂ (0.25 M Imidazole)","ord":15,"V":-0.266,"I":1.40},
{"panel":"B","series":"with O₂ (0.25 M Imidazole)","ord":16,"V":-0.288,"I":1.61},
{"panel":"B","series":"with O₂ (0.25 M Imidazole)","ord":17,"V":-0.31,"I":1.67},
{"panel":"B","series":"with O₂ (0.25 M Imidazole)","ord":18,"V":-0.325,"I":1.675},
{"panel":"B","series":"with O₂ (0.25 M Imidazole)","ord":19,"V":-0.34,"I":1.66},
{"panel":"B","series":"with O₂ (0.25 M Imidazole)","ord":20,"V":-0.355,"I":1.62},
{"panel":"B","series":"with O₂ (0.25 M Imidazole)","ord":21,"V":-0.377,"I":1.53},
{"panel":"B","series":"with O₂ (0.25 M Imidazole)","ord":22,"V":-0.399,"I":1.486},
{"panel":"B","series":"with O₂ (0.25 M Imidazole)","ord":23,"V":-0.436,"I":1.48},
{"panel":"B","series":"with O₂ (0.25 M Imidazole)","ord":24,"V":-0.473,"I":1.49},
{"panel":"B","series":"with O₂ (0.25 M Imidazole)","ord":25,"V":-0.548,"I":1.49},
{"panel":"B","series":"with O₂ (0.25 M Imidazole)","ord":26,"V":-0.622,"I":1.52},
{"panel":"B","series":"with O₂ (0.25 M Imidazole)","ord":27,"V":-0.696,"I":1.58},
{"panel":"B","series":"with O₂ (0.25 M Imidazole)","ord":28,"V":-0.755,"I":1.68},
{"panel":"B","series":"with O₂ (0.25 M Imidazole)","ord":29,"V":-0.8,"I":1.81},
{"panel":"B","series":"with O₂ (0.25 M Imidazole)","ord":30,"V":-0.797,"I":1.72},
{"panel":"B","series":"with O₂ (0.25 M Imidazole)","ord":31,"V":-0.793,"I":1.66},
{"panel":"B","series":"with O₂ (0.25 M Imidazole)","ord":32,"V":-0.77,"I":1.506},
{"panel":"B","series":"with O₂ (0.25 M Imidazole)","ord":33,"V":-0.733,"I":1.33},
{"panel":"B","series":"with O₂ (0.25 M Imidazole)","ord":34,"V":-0.696,"I":1.20},
{"panel":"B","series":"with O₂ (0.25 M Imidazole)","ord":35,"V":-0.622,"I":1.02},
{"panel":"B","series":"with O₂ (0.25 M Imidazole)","ord":36,"V":-0.548,"I":0.895},
{"panel":"B","series":"with O₂ (0.25 M Imidazole)","ord":37,"V":-0.473,"I":0.79},
{"panel":"B","series":"with O₂ (0.25 M Imidazole)","ord":38,"V":-0.414,"I":0.717},
{"panel":"B","series":"with O₂ (0.25 M Imidazole)","ord":39,"V":-0.37,"I":0.64},
{"panel":"B","series":"with O₂ (0.25 M Imidazole)","ord":40,"V":-0.34,"I":0.54},
{"panel":"B","series":"with O₂ (0.25 M Imidazole)","ord":41,"V":-0.31,"I":0.41},
{"panel":"B","series":"with O₂ (0.25 M Imidazole)","ord":42,"V":-0.281,"I":0.26},
{"panel":"B","series":"with O₂ (0.25 M Imidazole)","ord":43,"V":-0.251,"I":0.13},
{"panel":"B","series":"with O₂ (0.25 M Imidazole)","ord":44,"V":-0.236,"I":0.03},
{"panel":"B","series":"with O₂ (0.25 M Imidazole)","ord":45,"V":-0.206,"I":-0.148},
{"panel":"B","series":"with O₂ (0.25 M Imidazole)","ord":46,"V":-0.177,"I":-0.21},
{"panel":"B","series":"with O₂ (0.25 M Imidazole)","ord":47,"V":-0.14,"I":-0.235},
{"panel":"B","series":"with O₂ (0.25 M Imidazole)","ord":48,"V":-0.1,"I":-0.245},
{"panel":"B","series":"with O₂ (0.25 M Imidazole)","ord":49,"V":-0.075,"I":-0.265},
{"panel":"B","series":"with O₂ (0.25 M Imidazole)","ord":50,"V":-0.055,"I":-0.29},
{"panel":"B","series":"with O₂ (0.25 M Imidazole)","ord":51,"V":-0.03,"I":-0.285},
{"panel":"B","series":"with O₂ (0.25 M Imidazole)","ord":52,"V":0.03,"I":-0.285},
{"panel":"B","series":"with O₂ (0.25 M Imidazole)","ord":53,"V":0.152,"I":-0.29}
]},
"hconcat": [
{
  "width": 513, "height": 422,
  "title": {"text": "A", "dx": -5},
  "data": {"name": "cv"},
  "transform": [{"filter": "datum.panel == 'A'"}],
  "layer": [
    {
      "mark": {"type": "line", "strokeWidth": 3, "interpolate": "catmull-rom"},
      "encoding": {
        "x": {"field": "V", "type": "quantitative",
              "scale": {"domain": [-0.9, 0.2], "reverse": true, "nice": false, "zero": false},
              "axis": {"orient": "bottom", "title": "Potential (V)", "titlePadding": 9,
                       "values": [0.2, 0.1, 0, -0.1, -0.2, -0.3, -0.4, -0.5, -0.6, -0.7, -0.8, -0.9],
                       "tickSize": {"condition": {"test": "abs(round(datum.value*10)) % 2 == 0", "value": 7}, "value": 4.5},
                       "labelExpr": "abs(round(datum.value*10)) % 2 == 0 && datum.value > -0.85 ? (datum.value < -0.01 ? '-' : '') + format(abs(datum.value), '.1f') : ''"}},
        "y": {"field": "I", "type": "quantitative",
              "scale": {"domain": [-0.5, 3.0], "nice": false, "zero": false},
              "axis": {"orient": "left", "title": "Current (μA)", "titlePadding": 5,
                       "values": [-0.5, -0.25, 0, 0.25, 0.5, 0.75, 1, 1.25, 1.5, 1.75, 2, 2.25, 2.5, 2.75, 3],
                       "tickSize": {"condition": {"test": "abs(round(datum.value*4)) % 2 == 0", "value": 7}, "value": 4.5},
                       "labelExpr": "abs(round(datum.value*4)) % 2 == 0 ? (datum.value < -0.01 ? '-' : '') + format(abs(datum.value), '.1f') : ''"}},
        "color": {"field": "series", "type": "nominal",
                  "scale": {"domain": ["with O₂", "with O₂ + dH₂0", "without O₂", "without O₂ + dH₂0"],
                            "range": ["#000000", "#e8201e", "#2ee82e", "#1515e6"]},
                  "legend": {"title": "Bare-GCE 0.1M PBS (pH 8.0)", "legendX": 15, "legendY": 16,
                             "titleFontSize": 20, "labelFontSize": 20, "titlePadding": -4,
                             "symbolType": "M-1.23,0H1.63", "symbolSize": 900, "labelOffset": 19, "rowPadding": 6}},
        "order": {"field": "ord", "type": "quantitative"}
      }
    },
    {
      "mark": {"type": "line", "opacity": 0},
      "encoding": {
        "x": {"field": "V", "type": "quantitative",
              "scale": {"domain": [-0.9, 0.2], "reverse": true, "nice": false, "zero": false},
              "axis": {"orient": "top", "title": null, "labels": false,
                       "values": [0.2, 0.1, 0, -0.1, -0.2, -0.3, -0.4, -0.5, -0.6, -0.7, -0.8, -0.9],
                       "tickSize": {"condition": {"test": "abs(round(datum.value*10)) % 2 == 0", "value": 7}, "value": 4.5}}},
        "y": {"field": "I", "type": "quantitative",
              "scale": {"domain": [-0.5, 3.0], "nice": false, "zero": false},
              "axis": {"orient": "right", "title": null, "labels": false,
                       "values": [-0.5, -0.25, 0, 0.25, 0.5, 0.75, 1, 1.25, 1.5, 1.75, 2, 2.25, 2.5, 2.75, 3],
                       "tickSize": {"condition": {"test": "abs(round(datum.value*4)) % 2 == 0", "value": 7}, "value": 4.5}}},
        "detail": {"field": "series", "type": "nominal"},
        "order": {"field": "ord", "type": "quantitative"}
      }
    }
  ],
  "resolve": {"axis": {"x": "independent", "y": "independent"}}
},
{
  "width": 568, "height": 422,
  "title": {"text": "B", "dx": -23},
  "data": {"name": "cv"},
  "transform": [{"filter": "datum.panel == 'B'"}],
  "layer": [
    {
      "mark": {"type": "line", "strokeWidth": 3, "interpolate": "catmull-rom"},
      "encoding": {
        "x": {"field": "V", "type": "quantitative",
              "scale": {"domain": [-0.9, 0.2], "reverse": true, "nice": false, "zero": false},
              "axis": {"orient": "bottom", "title": "Potential (V)", "titlePadding": 17,
                       "values": [0.2, 0.1, 0, -0.1, -0.2, -0.3, -0.4, -0.5, -0.6, -0.7, -0.8, -0.9],
                       "tickSize": {"condition": {"test": "abs(round(datum.value*10)) % 2 == 0", "value": 7}, "value": 4.5},
                       "labelExpr": "abs(round(datum.value*10)) % 2 == 0 && datum.value > -0.85 ? (datum.value < -0.01 ? '-' : '') + format(abs(datum.value), '.1f') : ''"}},
        "y": {"field": "I", "type": "quantitative",
              "scale": {"domain": [-0.4, 2.8], "nice": false, "zero": false},
              "axis": {"orient": "left", "title": "Current (μA)", "titlePadding": 20,
                       "values": [-0.4, -0.2, 0, 0.2, 0.4, 0.6, 0.8, 1, 1.2, 1.4, 1.6, 1.8, 2, 2.2, 2.4, 2.6, 2.8],
                       "tickSize": {"condition": {"test": "abs(round(datum.value*5)) % 2 == 0", "value": 7}, "value": 4.5},
                       "labelExpr": "abs(round(datum.value*5)) % 2 == 0 ? (datum.value < -0.01 ? '-' : '') + format(abs(datum.value), '.1f') : ''"}},
        "color": {"field": "series", "type": "nominal",
                  "scale": {"domain": ["without O₂ (0 M Imidazole)", "with O₂ (0 M Imidazole)", "without O₂ (0.25 M Imidazole)", "with O₂ (0.25 M Imidazole)"],
                            "range": ["#000000", "#e8201e", "#2ee82e", "#1515e6"]},
                  "legend": {"title": "Bare-GCE 0.1M PBS (pH 8.0)", "legendX": 2, "legendY": 10,
                             "titleFontSize": 19, "labelFontSize": 19, "titlePadding": 0,
                             "symbolType": "M-1.2,0H2.2", "symbolSize": 784, "labelOffset": 18, "rowPadding": 4}},
        "order": {"field": "ord", "type": "quantitative"}
      }
    },
    {
      "mark": {"type": "line", "opacity": 0},
      "encoding": {
        "x": {"field": "V", "type": "quantitative",
              "scale": {"domain": [-0.9, 0.2], "reverse": true, "nice": false, "zero": false},
              "axis": {"orient": "top", "title": null, "labels": false,
                       "values": [0.2, 0.1, 0, -0.1, -0.2, -0.3, -0.4, -0.5, -0.6, -0.7, -0.8, -0.9],
                       "tickSize": {"condition": {"test": "abs(round(datum.value*10)) % 2 == 0", "value": 7}, "value": 4.5}}},
        "y": {"field": "I", "type": "quantitative",
              "scale": {"domain": [-0.4, 2.8], "nice": false, "zero": false},
              "axis": {"orient": "right", "title": null, "labels": false,
                       "values": [-0.4, -0.2, 0, 0.2, 0.4, 0.6, 0.8, 1, 1.2, 1.4, 1.6, 1.8, 2, 2.2, 2.4, 2.6, 2.8],
                       "tickSize": {"condition": {"test": "abs(round(datum.value*5)) % 2 == 0", "value": 7}, "value": 4.5}}},
        "detail": {"field": "series", "type": "nominal"},
        "order": {"field": "ord", "type": "quantitative"}
      }
    }
  ],
  "resolve": {"axis": {"x": "independent", "y": "independent"}}
}
]
}
